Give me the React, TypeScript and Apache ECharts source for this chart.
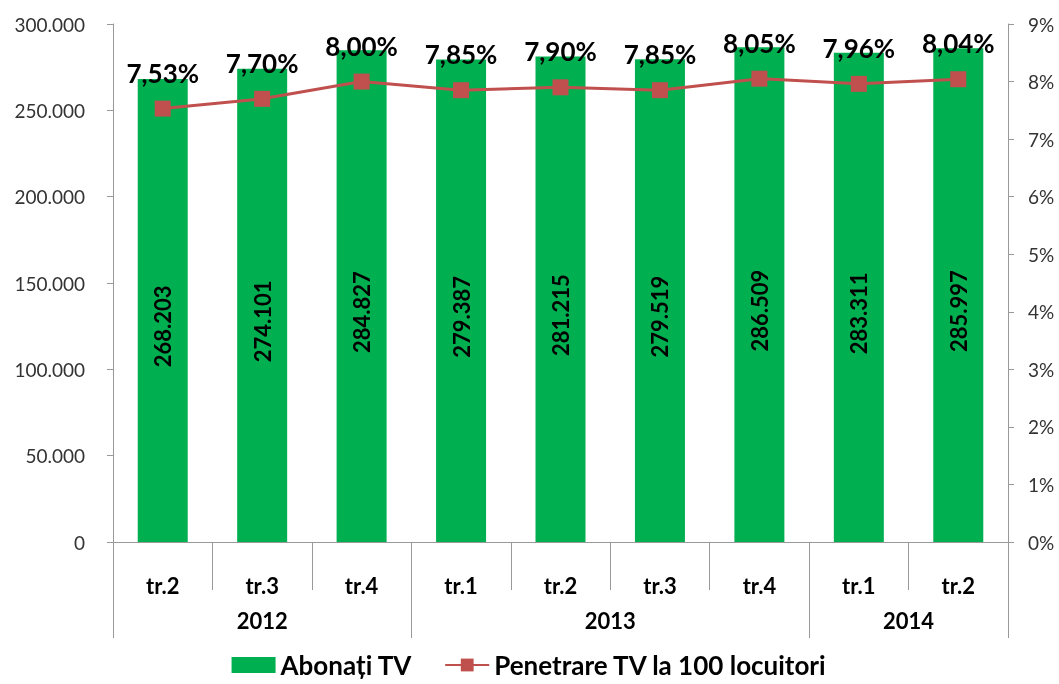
import React, { useEffect, useRef } from "react";
import * as echarts from "echarts";

const quarters = ["tr.2", "tr.3", "tr.4", "tr.1", "tr.2", "tr.3", "tr.4", "tr.1", "tr.2"];
const years = ["2012", "2013", "2014"];
const yearCenters = [1.5, 5, 8];
const yearBounds = [0, 3, 7, 9];
const subscribers = [268203, 274101, 284827, 279387, 281215, 279519, 286509, 283311, 285997];
const penetration = [7.53, 7.7, 8.0, 7.85, 7.9, 7.85, 8.05, 7.96, 8.04];

const FONT = "Lato, 'Open Sans', sans-serif";

function fmtThousands(v: number): string {
  return String(Math.round(v)).replace(/\B(?=(\d{3})+(?!\d))/g, ".");
}

export default function App() {
  const ref = useRef<HTMLDivElement>(null);
  useEffect(() => {
    if (!ref.current) return;
    const chart = echarts.init(ref.current, undefined, { renderer: "svg" });
    chart.setOption({
      animation: false,
      textStyle: { fontFamily: FONT },
      grid: { left: 113, right: 51, top: 24, bottom: 142, containLabel: false },
      legend: {
        bottom: 1,
        left: "center",
        itemWidth: 44,
        itemHeight: 16,
        itemGap: 32,
        textStyle: { fontSize: 26, fontWeight: "bold", color: "#000", fontFamily: FONT },
        data: [
          { name: "Abonați TV", icon: "rect" },
          { name: "Penetrare TV la 100 locuitori" },
        ],
      },
      xAxis: [
        {
          type: "category",
          data: quarters,
          position: "bottom",
          axisLine: { show: true, lineStyle: { color: "#999", width: 1 } },
          axisTick: { show: true, length: 48, lineStyle: { color: "#999" } },
          axisLabel: { fontSize: 22, fontWeight: "bold", color: "#000", margin: 32, fontFamily: FONT },
        },
        {
          type: "value",
          min: 0,
          max: 9,
          position: "bottom",
          axisLine: { show: false },
          splitLine: { show: false },
          axisTick: { show: true, length: 96, customValues: yearBounds, lineStyle: { color: "#999" } },
          axisLabel: {
            customValues: yearCenters,
            fontSize: 22,
            fontWeight: "bold",
            color: "#000",
            margin: 67,
            fontFamily: FONT,
            formatter: (v: number) => {
              const i = yearCenters.indexOf(v);
              return i >= 0 ? years[i] : "";
            },
          },
        },
      ],
      yAxis: [
        {
          type: "value",
          min: 0,
          max: 300000,
          interval: 50000,
          axisLine: { show: true, lineStyle: { color: "#999" } },
          axisTick: { show: true, length: 6, lineStyle: { color: "#999" } },
          splitLine: { show: false },
          axisLabel: { fontSize: 19, color: "#333", margin: 28, fontFamily: FONT, formatter: (v: number) => fmtThousands(v) },
        },
        {
          type: "value",
          min: 0,
          max: 9,
          interval: 1,
          position: "right",
          axisLine: { show: true, lineStyle: { color: "#999" } },
          axisTick: { show: true, length: 6, lineStyle: { color: "#999" } },
          splitLine: { show: false },
          axisLabel: { fontSize: 19, color: "#333", margin: 20, fontFamily: FONT, formatter: (v: number) => v + "%" },
        },
      ],
      series: [
        {
          name: "Abonați TV",
          type: "bar",
          xAxisIndex: 0,
          yAxisIndex: 0,
          data: subscribers,
          barWidth: 50,
          itemStyle: { color: "#00B050" },
          label: {
            show: true,
            position: "inside",
            rotate: 90,
            align: "center",
            verticalAlign: "middle",
            offset: [-16, 0],
            fontSize: 22,
            fontWeight: "bold",
            color: "#000",
            fontFamily: FONT,
            formatter: (p: any) => fmtThousands(p.value),
          },
        },
        {
          name: "Penetrare TV la 100 locuitori",
          type: "line",
          xAxisIndex: 0,
          yAxisIndex: 1,
          data: penetration,
          symbol: "rect",
          symbolSize: 16,
          lineStyle: { color: "#C0504D", width: 3 },
          itemStyle: { color: "#C0504D" },
          label: {
            show: true,
            position: "top",
            distance: 15,
            fontSize: 26,
            fontWeight: "bold",
            color: "#000",
            fontFamily: FONT,
            formatter: (p: any) => p.value.toFixed(2).replace(".", ",") + "%",
          },
        },
      ],
    });
    return () => chart.dispose();
  }, []);
  return <div ref={ref} style={{ position: "fixed", left: 0, top: 0, width: 1059, height: 684 }} />;
}
